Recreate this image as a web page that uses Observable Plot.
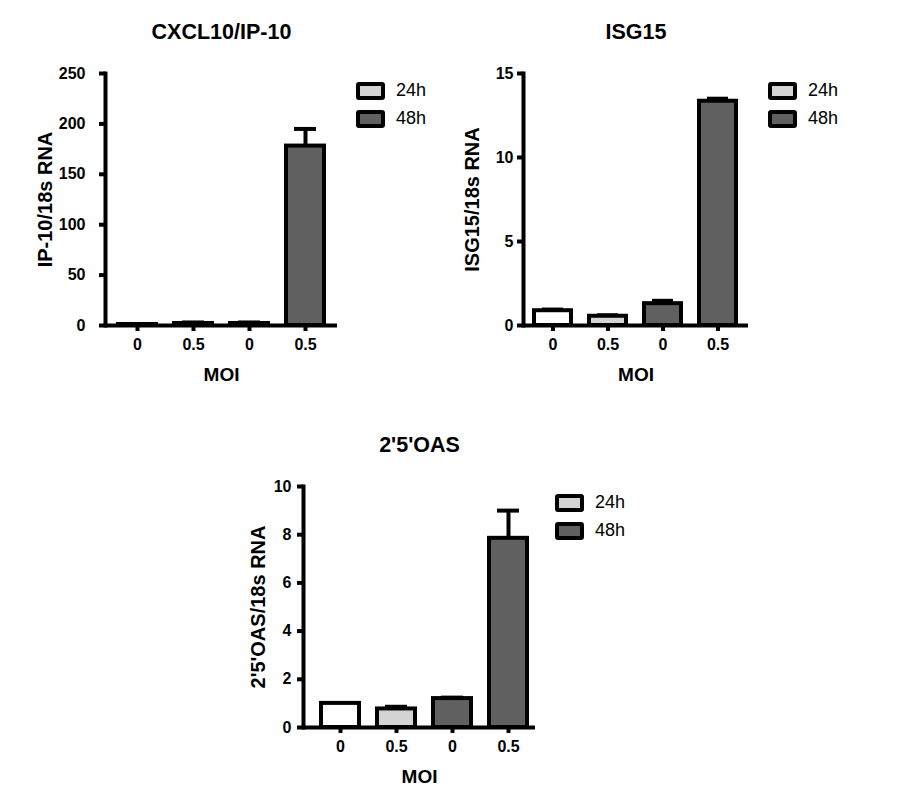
<!DOCTYPE html>
<html>
<head>
<meta charset="utf-8">
<script src="https://cdn.jsdelivr.net/npm/d3@7"></script>
<script src="https://cdn.jsdelivr.net/npm/@observablehq/plot@0.6"></script>
<style>
  html, body { margin: 0; padding: 0; background: #fff; }
  #page { position: relative; width: 919px; height: 799px; overflow: hidden; font-family: "Liberation Sans", Arial, sans-serif; }
  .panel { position: absolute; }
  .legend { position: absolute; }
  .lrow { position: absolute; left: 0; display: flex; align-items: center; white-space: nowrap; }
  .lbox { box-sizing: border-box; width: 29px; height: 18px; border: 4px solid #000; border-radius: 3px; }
  .ltext { margin-left: 11px; font-size: 18px; color: #000; }
</style>
</head>
<body>
<div id="page"></div>
<script>
// ---------- data ----------
const titles = ["CXCL10/IP-10", "ISG15", "2'5'OAS"];
const yLabels = ["IP-10/18s RNA", "ISG15/18s RNA", "2'5'OAS/18s RNA"];
const xLabel = "MOI";
const moiLabels = ["0", "0.5", "0", "0.5"];
const barFills = ["#ffffff", "#d4d4d4", "#606060", "#606060"];

const cxcl10Mean = [1, 2, 2, 178];
const cxcl10Err  = [0.5, 1, 1, 17];
const isg15Mean  = [0.88, 0.55, 1.3, 13.35];
const isg15Err   = [0.07, 0.06, 0.17, 0.15];
const oasMean    = [1.0, 0.77, 1.2, 7.85];
const oasErr     = [0.0, 0.09, 0.04, 1.15];

const yTicks1 = [0, 50, 100, 150, 200, 250];
const yTicks2 = [0, 5, 10, 15];
const yTicks3 = [0, 2, 4, 6, 8, 10];

const legendLabels = ["24h", "48h"];
const legendFills = ["#d4d4d4", "#606060"];

// ---------- drawing ----------
const FONT = "'Liberation Sans', Arial, sans-serif";
const SW = 4;

function panel(cfg) {
  const data = cfg.mean.map((v, i) => ({k: String(i), v, e: v + cfg.err[i], fill: barFills[i]}));
  return Plot.plot({
    width: cfg.w, height: cfg.h,
    marginLeft: cfg.ml, marginRight: cfg.mr, marginTop: cfg.mt, marginBottom: cfg.mb,
    style: {fontFamily: FONT, fontWeight: "bold", fontSize: "16px", color: "#000", background: "transparent", overflow: "visible"},
    x: {type: "band", domain: ["0", "1", "2", "3"], paddingInner: 0.32, paddingOuter: 0.2, align: cfg.align},
    y: {domain: [0, cfg.yMax]},
    color: {type: "identity"},
    marks: [
      Plot.ruleX(data, {x: "k", y1: "v", y2: "e", stroke: "#000", strokeWidth: SW}),
      Plot.tickY(data, {x: "k", y: "e", stroke: "#000", strokeWidth: SW, insetLeft: 8, insetRight: 8}),
      Plot.barY(data, {x: "k", y: "v", fill: "fill", stroke: "#000", strokeWidth: SW}),
      Plot.frame({anchor: "left", stroke: "#000", strokeWidth: SW}),
      Plot.ruleY([0], {stroke: "#000", strokeWidth: SW}),
      Plot.axisY({ticks: cfg.yTicks, tickSize: 6, tickPadding: cfg.tickPad, strokeWidth: SW, label: null, fontSize: 16}),
      Plot.axisX({tickSize: 6, tickPadding: 7, strokeWidth: SW, tickFormat: (d) => moiLabels[+d], label: null, fontSize: 16}),
      Plot.text([cfg.yLabel], {frameAnchor: "left", rotate: -90, dx: cfg.ylDx, textAnchor: "middle", lineAnchor: "middle", fontSize: 20, fontWeight: "bold", fill: "#000"}),
      Plot.text([xLabel], {frameAnchor: "bottom", dy: 49, textAnchor: "middle", lineAnchor: "middle", fontSize: 19, fontWeight: "bold", fill: "#000"}),
      Plot.text([cfg.title], {frameAnchor: "top", dy: -41, textAnchor: "middle", lineAnchor: "middle", fontSize: 21.5, fontWeight: "bold", fill: "#000"})
    ]
  });
}

function legend(left, top) {
  const div = document.createElement("div");
  div.className = "legend";
  div.style.left = left + "px";
  div.style.top = top + "px";
  legendLabels.forEach((lab, i) => {
    const row = document.createElement("div");
    row.className = "lrow";
    row.style.top = (i * 28) + "px";
    const box = document.createElement("div");
    box.className = "lbox";
    box.style.background = legendFills[i];
    const t = document.createElement("span");
    t.className = "ltext";
    t.textContent = lab;
    row.appendChild(box);
    row.appendChild(t);
    div.appendChild(row);
  });
  return div;
}

const page = document.getElementById("page");
const panels = [
  {left: 0, top: 0, w: 460, h: 400, ml: 105, mr: 123, mt: 73, mb: 75, tickPad: 14, align: 0.5, ylDx: -60,
   mean: cxcl10Mean, err: cxcl10Err, yMax: 250, yTicks: yTicks1, yLabel: yLabels[0], title: titles[0], lx: 356, ly: 80},
  {left: 420, top: 0, w: 470, h: 400, ml: 103, mr: 142, mt: 73, mb: 75, tickPad: 4, align: 0.5, ylDx: -51,
   mean: isg15Mean, err: isg15Err, yMax: 15, yTicks: yTicks2, yLabel: yLabels[1], title: titles[1], lx: 768, ly: 80},
  {left: 200, top: 410, w: 460, h: 389, ml: 103, mr: 125, mt: 76, mb: 72, tickPad: 6, align: 0.68, ylDx: -45,
   mean: oasMean, err: oasErr, yMax: 10, yTicks: yTicks3, yLabel: yLabels[2], title: titles[2], lx: 555, ly: 492}
];
panels.forEach((p) => {
  const svg = panel(p);
  svg.classList.add("panel");
  svg.style.left = p.left + "px";
  svg.style.top = p.top + "px";
  page.appendChild(svg);
  page.appendChild(legend(p.lx, p.ly));
});
</script>
</body>
</html>
